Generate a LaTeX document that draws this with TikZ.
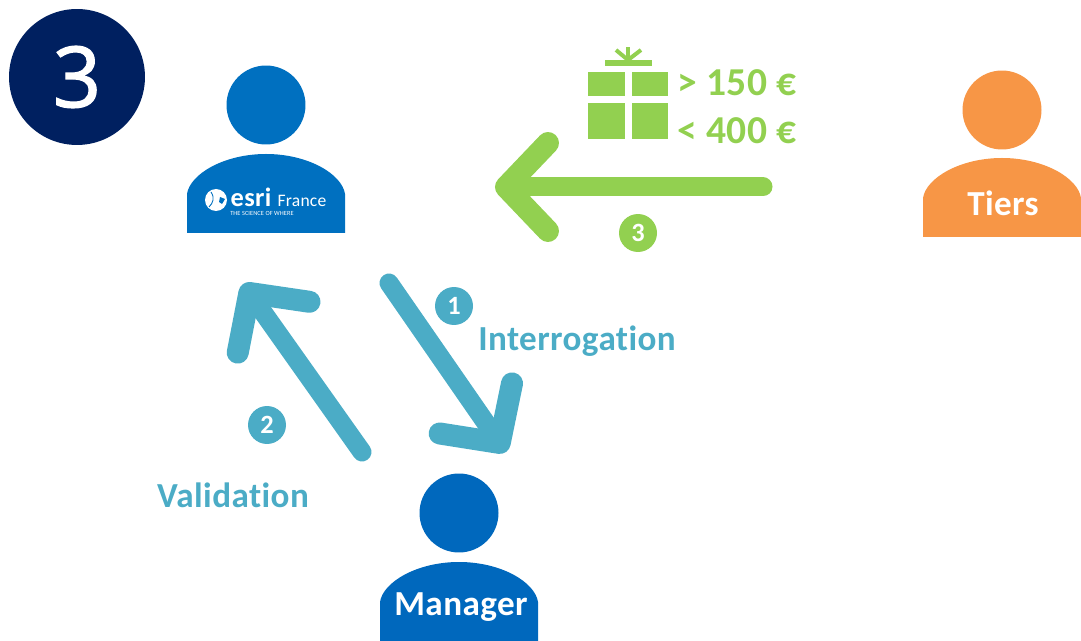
\documentclass[tikz,border=0pt]{standalone}
\usepackage{fontspec}
\setmainfont{Carlito}[Ligatures=NoCommon,LetterSpace=1.2]
\newfontfamily\badgefont{Open Sans}[RawFeature={embolden=1.5}]
\usetikzlibrary{arrows.meta}

\definecolor{navyblue}{HTML}{002060}
\definecolor{personblue}{HTML}{0070C0}
\definecolor{managerblue}{HTML}{0068BD}
\definecolor{tiersorange}{HTML}{F79646}
\definecolor{linkblue}{HTML}{4BACC6}
\definecolor{giftgreen}{HTML}{92D050}

\tikzset{
  headdot/.style={circle,minimum size=1.58cm,inner sep=0pt},
  numdot/.style={circle,minimum size=0.76cm,inner sep=0pt,text=white,font=\bfseries\fontsize{15}{15}\selectfont},
  person label/.style={text=white,font=\bfseries\fontsize{20}{20}\selectfont},
  big label/.style={font=\bfseries\fontsize{20}{20}\selectfont},
  price label/.style={text=giftgreen,anchor=west,inner sep=0pt,font=\bfseries\fontsize{22.5}{22.5}\selectfont},
  flow/.style={line width=0.38cm,line cap=round,
    -{Straight Barb[round,line width=0.44cm,length=0.84cm,width=1.76cm]}},
}

\begin{document}
\begin{tikzpicture}[x=0.02cm,y=-0.02cm]
  \useasboundingbox (0,0) rectangle (1081,641);

  % step badge
  \node[circle,fill=navyblue,minimum size=2.72cm,inner sep=0pt,text=white,
    font=\badgefont\fontsize{48}{48}\selectfont] (badge) at (77,77) {3};

  % people
  \foreach \px/\py/\pcol in {266/154/personblue,459/562/managerblue,1002/158/tiersorange}{
    \begin{scope}[shift={(\px,\py)}]
      \fill[\pcol] (-79,79) -- (-79,40) .. controls (-76,20) and (-42,0) .. (0,0)
        .. controls (42,0) and (76,20) .. (79,40) -- (79,79) -- cycle;
    \end{scope}
  }
  \node[headdot,fill=personblue] (headesri) at (266,105) {};
  \node[headdot,fill=managerblue] (headmanager) at (459,513) {};
  \node[headdot,fill=tiersorange] (headtiers) at (1002,110) {};

  \node[person label] (tiers) at (1003,203) {Tiers};
  \node[person label] (manager) at (461,607) {Manager};

  % esri logo
  \node[circle,fill=white,minimum size=0.44cm,inner sep=0pt] (globe) at (216,200) {};
  \draw[personblue,line width=0.5pt] (211,192) .. controls (215,198) and (213,203) .. (209,207);
  \fill[personblue] (220,197) -- (225,199) -- (222,204) -- (219,202) -- cycle;
  \node[text=white,inner sep=0pt,font=\bfseries\fontsize{15}{15}\selectfont] (esri) at (251,197) {esri};
  \node[text=white,inner sep=0pt,font=\fontsize{10}{10}\selectfont] (france) at (302,201) {France};
  \node[text=white,inner sep=0pt,font=\fontsize{3.6}{3.6}\selectfont] (slogan) at (262,213) {THE SCIENCE OF WHERE};

  % gift
  \foreach \gx/\gy/\gw/\gh in {588/72/37/24,632/72/36/24,588/103/37/36,632/103/36/36,605/60/47/6}{
    \fill[giftgreen] (\gx,\gy) rectangle ++(\gw,\gh);
  }
  \foreach \gx/\gy in {616/50,628/47,641/50}{
    \draw[giftgreen,line width=0.08cm] (628,60) -- (\gx,\gy);
  }
  \node[price label] (over) at (677,83) {> 150 €};
  \node[price label] (under) at (677,131) {< 400 €};

  % arrows
  \coordinate (giftstart) at (763,187);
  \coordinate (giftend) at (495,187);
  \coordinate (askstart) at (389,283);
  \coordinate (askend) at (506,452);
  \coordinate (okstart) at (362,452);
  \coordinate (okend) at (243,284);
  \draw[flow,giftgreen] (giftstart) -- (giftend);
  \draw[flow,linkblue] (askstart) -- (askend);
  \draw[flow,linkblue] (okstart) -- (okend);

  \node[numdot,fill=linkblue] (num1) at (454,306) {1};
  \node[numdot,fill=linkblue] (num2) at (267,425) {2};
  \node[numdot,fill=giftgreen] (num3) at (638,233) {3};

  \node[big label,text=linkblue] (ask) at (577,341) {Interrogation};
  \node[big label,text=linkblue] (ok) at (233,495) {Validation};
\end{tikzpicture}
\end{document}
